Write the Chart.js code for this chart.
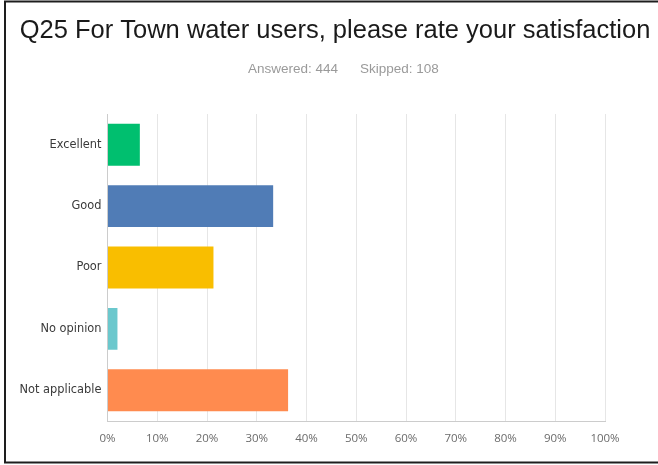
<!DOCTYPE html>
<html>
<head>
<meta charset="utf-8">
<script src="https://cdn.jsdelivr.net/npm/chart.js@4/dist/chart.umd.min.js"></script>
<style>
  html, body { margin: 0; padding: 0; background: #ffffff; }
  #wrap { position: relative; width: 658px; height: 465px; }
</style>
</head>
<body>
<div id="wrap"><canvas id="chart" width="658" height="465"></canvas></div>
<script>
// Survey question and response summary
const questionTitle = 'Q25 For Town water users, please rate your satisfaction';
const answeredText = 'Answered: 444';
const skippedText = 'Skipped: 108';

// Answer choices and share of respondents (%)
const categories = ['Excellent', 'Good', 'Poor', 'No opinion', 'Not applicable'];
const shares = [6.5, 33.3, 21.3, 2.0, 36.3];
const barColors = ['#00bf6f', '#507cb6', '#f9be00', '#6bc8cd', '#ff8b4f'];

// Axis ticks (%)
const tickValues = [0, 10, 20, 30, 40, 50, 60, 70, 80, 90, 100];

// Header text and the frame around the panel
const headerPlugin = {
  id: 'header',
  beforeDraw(chart) {
    const ctx = chart.ctx;
    ctx.save();
    ctx.fillStyle = '#ffffff';
    ctx.fillRect(0, 0, chart.width, chart.height);

    ctx.fillStyle = '#1a1a1a';
    ctx.font = '25.5px "Liberation Sans", Arial, sans-serif';
    ctx.textAlign = 'center';
    ctx.textBaseline = 'alphabetic';
    ctx.fillText(questionTitle, 335, 38);

    ctx.fillStyle = '#9a9a9a';
    ctx.font = '13.5px "Liberation Sans", Arial, sans-serif';
    ctx.textAlign = 'left';
    ctx.fillText(answeredText, 248, 73);
    ctx.fillText(skippedText, 360, 73);

    ctx.strokeStyle = '#1e1e1e';
    ctx.lineWidth = 2;
    ctx.beginPath();
    ctx.moveTo(chart.width, 1.5);
    ctx.lineTo(5, 1.5);
    ctx.lineTo(5, 462.5);
    ctx.lineTo(chart.width, 462.5);
    ctx.stroke();
    ctx.restore();
  }
};

new Chart(document.getElementById('chart'), {
  type: 'bar',
  data: {
    labels: categories,
    datasets: [{
      data: shares,
      backgroundColor: barColors,
      borderWidth: 0,
      barPercentage: 0.683,
      categoryPercentage: 1.0
    }]
  },
  options: {
    indexAxis: 'y',
    responsive: false,
    animation: false,
    layout: { padding: { top: 114, right: 53, left: 0, bottom: 0 } },
    plugins: {
      legend: { display: false },
      tooltip: { enabled: false }
    },
    scales: {
      x: {
        min: 0,
        max: 100,
        afterBuildTicks(scale) {
          scale.ticks = tickValues.map(v => ({ value: v }));
        },
        afterFit(scale) { scale.height = 44; },
        grid: { color: '#e6e6e6', lineWidth: 1, drawTicks: false },
        border: { color: '#cccccc', width: 1 },
        ticks: {
          padding: 11,
          color: '#6b6b6b',
          font: { family: '"Open Sans", sans-serif', size: 11.5 },
          callback: v => v + '%'
        }
      },
      y: {
        afterFit(scale) { scale.width = 107.5; },
        grid: { display: false, drawTicks: false },
        border: { color: '#cccccc', width: 1 },
        ticks: {
          padding: 6,
          color: '#3a3a3a',
          font: { family: '"DejaVu Sans", sans-serif', size: 11.4 }
        }
      }
    }
  },
  plugins: [headerPlugin]
});
</script>
</body>
</html>
